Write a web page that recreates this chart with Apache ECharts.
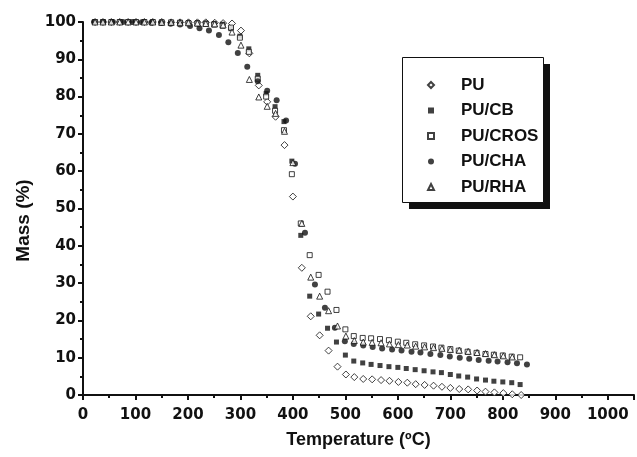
<!DOCTYPE html>
<html>
<head>
<meta charset="utf-8">
<script src="https://cdn.jsdelivr.net/npm/echarts@6/dist/echarts.min.js"></script>
<style>
  html, body { margin: 0; padding: 0; background: #fff; }
  #chart { width: 637px; height: 457px; }
</style>
</head>
<body>
<div id="chart"></div>
<script>
// temperatures (ºC) and residual mass (%)
var puTemp = [23, 38, 54, 70, 86, 101, 117, 133, 150, 168, 185, 201, 218, 234, 251, 267, 284, 301, 317, 335,
  351, 367, 384, 400, 417, 434, 451, 468, 485, 501, 517, 534, 551, 568, 584, 601, 618, 634, 651, 668,
  684, 700, 717, 734, 751, 767, 784, 801, 818, 835];
var puMass = [100, 100, 100, 100, 100, 100, 100, 100, 100, 99.9, 99.9, 99.9, 99.9, 99.9, 99.8, 99.7, 99.6, 97.7, 91.6, 83,
  78.6, 74.6, 67, 53.2, 34.1, 21.1, 16, 11.9, 7.6, 5.5, 4.8, 4.3, 4.2, 4.0, 3.8, 3.5, 3.3, 2.9, 2.7, 2.5,
  2.2, 1.9, 1.6, 1.5, 1.2, 0.9, 0.7, 0.5, 0.2, 0];

var cbTemp = [23, 38, 54, 70, 86, 101, 117, 133, 150, 168, 185, 201, 218, 234, 250, 266, 282, 299, 316, 333,
  349, 366, 383, 398, 415, 432, 449, 466, 483, 500, 516, 533, 549, 566, 583, 600, 616, 633, 650, 667,
  683, 700, 716, 733, 750, 767, 783, 800, 817, 833];
var cbMass = [100, 100, 100, 100, 100, 100, 100, 100, 100, 99.9, 99.9, 99.8, 99.8, 99.7, 99.6, 99.4, 98.2, 96.2, 92.8, 85.7,
  80.8, 77.3, 73.3, 62.7, 42.8, 26.5, 21.7, 17.9, 14.2, 10.7, 9.1, 8.6, 8.2, 7.9, 7.6, 7.4, 7.1, 6.8, 6.5, 6.2,
  6.0, 5.5, 5.1, 4.8, 4.3, 4.0, 3.7, 3.5, 3.3, 2.8];

var crosTemp = cbTemp;
var crosMass = [100, 100, 100, 100, 100, 100, 100, 100, 99.9, 99.9, 99.8, 99.7, 99.6, 99.5, 99.3, 99.0, 98.5, 95.8, 92, 84.8,
  80, 76.2, 71, 59.2, 46, 37.5, 32.2, 27.7, 22.8, 17.6, 15.8, 15.3, 15.2, 15.0, 14.7, 14.3, 14.0, 13.6, 13.3, 13.0,
  12.7, 12.3, 11.9, 11.6, 11.3, 11.0, 10.8, 10.6, 10.3, 10.1];

var chaTemp = [21, 39, 57, 76, 94, 112, 130, 149, 167, 185, 204, 222, 240, 259, 277, 295, 313, 333, 351, 369,
  387, 404, 423, 442, 461, 480, 499, 516, 534, 552, 570, 589, 607, 626, 643, 662, 681, 699, 718, 736,
  754, 773, 790, 809, 827, 846];
var chaMass = [100, 100, 100, 100, 100, 99.9, 99.8, 99.7, 99.5, 99.3, 98.9, 98.3, 97.7, 96.5, 94.6, 91.7, 88.0, 84.1, 81.6, 79.0,
  73.6, 62.0, 43.5, 29.6, 23.4, 18.0, 14.4, 13.7, 13.3, 12.9, 12.5, 12.2, 11.9, 11.6, 11.4, 11.0, 10.7, 10.3, 10.0, 9.7,
  9.4, 9.2, 9.0, 8.8, 8.5, 8.2];

var rhaTemp = puTemp.slice(0, 49);
var rhaMass = [100, 100, 100, 100, 100, 100, 100, 100, 99.9, 99.9, 99.8, 99.8, 99.7, 99.6, 99.5, 99.2, 97.3, 93.8, 84.6, 79.9,
  77.4, 75.5, 70.7, 62.3, 46.0, 31.6, 26.5, 22.6, 18.5, 15.8, 14.6, 14.2, 14.1, 14.0, 13.7, 13.5, 13.4, 13.1, 12.9, 12.7,
  12.5, 12.2, 12.0, 11.7, 11.4, 11.1, 10.8, 10.5, 10.2];

var seriesNames = ["PU", "PU/CB", "PU/CROS", "PU/CHA", "PU/RHA"];

var FONT = "'Liberation Sans', Arial, sans-serif";
var TICK_FONT = "'DejaVu Sans', sans-serif";

function pairs(t, m) {
  var out = [];
  for (var i = 0; i < m.length; i++) out.push([t[i], m[i]]);
  return out;
}

function scatter(name, t, m, symbol, size, filled) {
  return {
    name: name,
    type: "scatter",
    symbol: symbol,
    symbolSize: size,
    itemStyle: filled
      ? { color: "#111", borderColor: "#111", borderWidth: 0 }
      : { color: "#fff", borderColor: "#111", borderWidth: 1 },
    emphasis: { disabled: true },
    data: pairs(t, m)
  };
}

var myChart = echarts.init(document.getElementById("chart"));
myChart.setOption({
  animation: false,
  backgroundColor: "#fff",
  grid: { left: 83, right: 0, top: 22, bottom: 62 },
  // legend frame with its hard drop shadow
  graphic: [
    { type: "rect", left: 409, top: 64, z: 1, shape: { width: 141, height: 145 }, style: { fill: "#111" } },
    { type: "rect", left: 402, top: 57, z: 2, shape: { width: 141, height: 145 }, style: { fill: "#fff", stroke: "#111", lineWidth: 1 } }
  ],
  legend: {
    orient: "vertical",
    left: 402,
    top: 57,
    z: 10,
    itemWidth: 6,
    itemHeight: 6,
    itemGap: 8.5,
    padding: [19.5, 5.5, 6.5, 25],
    selectedMode: false,
    textStyle: { fontFamily: FONT, fontWeight: "bold", fontSize: 17, lineHeight: 17, color: "#111", padding: [0, 0, 0, 22] },
    data: seriesNames
  },
  xAxis: {
    type: "value",
    min: 0,
    max: 1050,
    interval: 100,
    name: "Temperature (ºC)",
    nameLocation: "middle",
    nameGap: 36,
    nameTextStyle: { fontFamily: FONT, fontWeight: "bold", fontSize: 18, color: "#111" },
    axisLine: { lineStyle: { color: "#111", width: 2 } },
    axisTick: { length: 5, lineStyle: { color: "#111", width: 2 } },
    minorTick: { show: true, splitNumber: 2, length: 3, lineStyle: { color: "#111", width: 2 } },
    splitLine: { show: false },
    axisLabel: {
      margin: 13, fontFamily: TICK_FONT, fontWeight: "bold", fontSize: 15, color: "#111",
      formatter: function (v) { return v > 1000 ? "" : String(v); }
    }
  },
  yAxis: {
    type: "value",
    min: 0,
    max: 100,
    interval: 10,
    name: "Mass (%)",
    nameLocation: "middle",
    nameGap: 50,
    nameTextStyle: { fontFamily: FONT, fontWeight: "bold", fontSize: 19, color: "#111", padding: [0, 24, 0, 0] },
    axisLine: { lineStyle: { color: "#111", width: 2 } },
    axisTick: { length: 5, lineStyle: { color: "#111", width: 2 } },
    minorTick: { show: true, splitNumber: 2, length: 3, lineStyle: { color: "#111", width: 2 } },
    splitLine: { show: false },
    axisLabel: { margin: 7, fontFamily: TICK_FONT, fontWeight: "bold", fontSize: 15, color: "#111" }
  },
  series: [
    scatter("PU", puTemp, puMass, "diamond", 7, false),
    scatter("PU/CB", cbTemp, cbMass, "rect", 5, true),
    scatter("PU/CROS", crosTemp, crosMass, "rect", 5, false),
    scatter("PU/CHA", chaTemp, chaMass, "circle", 6, true),
    scatter("PU/RHA", rhaTemp, rhaMass, "triangle", 6, false)
  ]
});
</script>
</body>
</html>
